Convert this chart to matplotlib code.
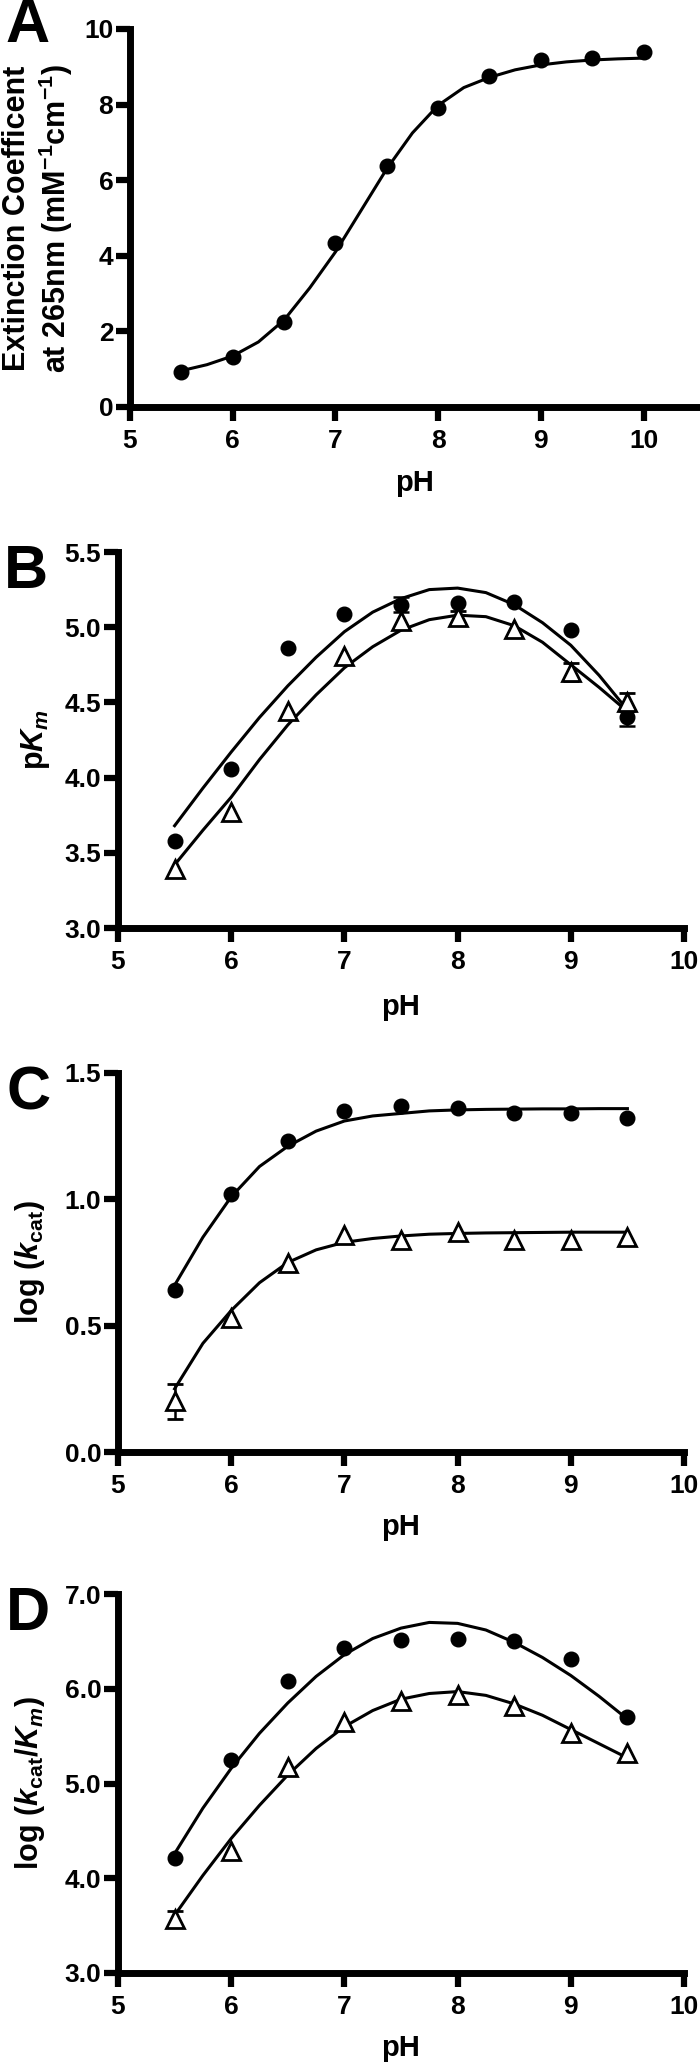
import numpy as np
import matplotlib
matplotlib.use("Agg")
import matplotlib.pyplot as plt

plt.rcParams['font.family'] = 'Liberation Sans'
plt.rcParams['font.weight'] = 'bold'
plt.rcParams['mathtext.fontset'] = 'custom'
plt.rcParams['mathtext.rm'] = 'Liberation Sans:bold'
plt.rcParams['mathtext.it'] = 'Liberation Sans:italic:bold'
plt.rcParams['mathtext.bf'] = 'Liberation Sans:bold'

# panel A data
ph_a = [5.5, 6.0, 6.5, 7.0, 7.5, 8.0, 8.5, 9.0, 9.5, 10.0]
ext_a = [0.93, 1.32, 2.25, 4.33, 6.38, 7.92, 8.76, 9.18, 9.22, 9.38]
fit_ph_a = [5.5, 5.75, 6.0, 6.25, 6.5, 6.75, 7.0, 7.25, 7.5, 7.75, 8.0,
            8.25, 8.5, 8.75, 9.0, 9.25, 9.5, 9.75, 10.0]
fit_a = [0.96, 1.12, 1.35, 1.72, 2.3, 3.15, 4.1, 5.2, 6.3, 7.25, 7.98,
         8.45, 8.72, 8.92, 9.05, 9.13, 9.18, 9.21, 9.23]

# panels B-D share the pH values
ph = [5.5, 6.0, 6.5, 7.0, 7.5, 8.0, 8.5, 9.0, 9.5]
fit_ph = [5.5, 5.75, 6.0, 6.25, 6.5, 6.75, 7.0, 7.25, 7.5, 7.75, 8.0,
          8.25, 8.5, 8.75, 9.0, 9.25, 9.5]

pkm_circ = [3.58, 4.06, 4.86, 5.09, 5.15, 5.16, 5.17, 4.98, 4.40]
pkm_circ_err = [np.nan, np.nan, np.nan, np.nan, 0.05, np.nan, np.nan, np.nan, 0.06]
pkm_tri = [3.39, 3.77, 4.44, 4.81, 5.04, 5.07, 4.99, 4.70, 4.50]
pkm_tri_err = [np.nan, np.nan, np.nan, np.nan, np.nan, 0.04, np.nan, 0.06, 0.06]
fit_pkm_circ = [3.68, 3.93, 4.17, 4.40, 4.61, 4.80, 4.97, 5.10, 5.19, 5.25, 5.26,
                5.23, 5.15, 5.03, 4.88, 4.68, 4.45]
fit_pkm_tri = [3.42, 3.65, 3.87, 4.12, 4.35, 4.55, 4.73, 4.87, 4.98, 5.05, 5.08,
               5.07, 5.01, 4.90, 4.75, 4.60, 4.44]

kcat_circ = [0.64, 1.02, 1.23, 1.35, 1.37, 1.36, 1.34, 1.34, 1.32]
kcat_circ_err = [np.nan] * 9
kcat_tri = [0.20, 0.53, 0.75, 0.86, 0.84, 0.87, 0.84, 0.84, 0.85]
kcat_tri_err = [0.07, np.nan, np.nan, np.nan, np.nan, np.nan, np.nan, np.nan, np.nan]
fit_kcat_circ = [0.66, 0.85, 1.01, 1.13, 1.21, 1.27, 1.31, 1.33, 1.34, 1.35, 1.354,
                 1.356, 1.357, 1.358, 1.358, 1.359, 1.359]
fit_kcat_tri = [0.25, 0.43, 0.56, 0.67, 0.75, 0.80, 0.83, 0.845, 0.855, 0.862, 0.865,
                0.867, 0.868, 0.869, 0.87, 0.87, 0.87]

eff_circ = [4.21, 5.25, 6.08, 6.43, 6.51, 6.52, 6.50, 6.31, 5.70]
eff_circ_err = [np.nan] * 9
eff_tri = [3.57, 4.29, 5.17, 5.65, 5.87, 5.93, 5.82, 5.53, 5.32]
eff_tri_err = [0.08, np.nan, np.nan, np.nan, np.nan, np.nan, np.nan, np.nan, np.nan]
fit_eff_circ = [4.26, 4.74, 5.16, 5.53, 5.85, 6.13, 6.36, 6.53, 6.64, 6.70, 6.69,
                6.62, 6.49, 6.33, 6.14, 5.92, 5.68]
fit_eff_tri = [3.61, 4.03, 4.42, 4.77, 5.09, 5.37, 5.60, 5.77, 5.89, 5.95, 5.97,
               5.93, 5.84, 5.72, 5.57, 5.42, 5.27]

W, H = 700, 2065
fig = plt.figure(figsize=(7, 20.65), dpi=100)


def make_axes(left, right, top, bottom):
    return fig.add_axes([left / W, 1 - bottom / H, (right - left) / W, (bottom - top) / H])


def style(ax, xlim, ylim, yticks, ylabels, ylabel, ylab_x, xlab_y):
    ax.set_xlim(*xlim)
    ax.set_ylim(*ylim)
    ax.set_xticks([5, 6, 7, 8, 9, 10])
    ax.set_xticklabels(['5', '6', '7', '8', '9', '10'], fontweight='bold')
    ax.set_yticks(yticks)
    ax.set_yticklabels(ylabels, fontweight='bold')
    for s in ['top', 'right']:
        ax.spines[s].set_visible(False)
    for s in ['left', 'bottom']:
        ax.spines[s].set_linewidth(5)
    ax.tick_params(axis='both', width=4.5, length=10, labelsize=19)
    ax.tick_params(axis='x', pad=6)
    ax.tick_params(axis='y', pad=2)
    ax.set_xlabel('pH', fontsize=21, fontweight='bold', va='center')
    ax.xaxis.set_label_coords(0.5, xlab_y)
    ax.set_ylabel(ylabel, fontsize=22, fontweight='bold', va='center', linespacing=1.15)
    ax.yaxis.set_label_coords(ylab_x, 0.5)
    ax.patch.set_alpha(0)


def points(ax, y, err, marker):
    if marker == 'o':
        ax.errorbar(ph, y, yerr=err, fmt='o', ms=10.5, color='black',
                    ecolor='black', elinewidth=1.8, capsize=6, capthick=1.8,
                    zorder=3, clip_on=False)
    else:
        ax.errorbar(ph, y, yerr=err, fmt='^', ms=13, mfc='white', mec='black',
                    mew=2, color='black', ecolor='black', elinewidth=1.8,
                    capsize=6, capthick=1.8, zorder=4, clip_on=False)


# A
ax = make_axes(130, 700, 29, 407)
ax.plot(fit_ph_a, fit_a, color='black', lw=2.2, zorder=2)
ax.plot(ph_a, ext_a, 'o', ms=10.5, color='black', zorder=3, clip_on=False)
style(ax, (5, 10.55), (0, 10), [0, 2, 4, 6, 8, 10], ['0', '2', '4', '6', '8', '10'],
      'Extinction Coefficent\nat 265nm (mM$^{-1}$cm$^{-1}$)', -0.160, -0.201)

# B
ax = make_axes(118, 684, 552, 928)
ax.plot(fit_ph, fit_pkm_circ, color='black', lw=2.2, zorder=2)
ax.plot(fit_ph, fit_pkm_tri, color='black', lw=2.2, zorder=2)
points(ax, pkm_circ, pkm_circ_err, 'o')
points(ax, pkm_tri, pkm_tri_err, '^')
style(ax, (5, 10), (3.0, 5.5), [3.0, 3.5, 4.0, 4.5, 5.0, 5.5],
      ['3.0', '3.5', '4.0', '4.5', '5.0', '5.5'], 'p$K_m$', -0.145, -0.210)

# C
ax = make_axes(118, 684, 1073, 1452)
ax.plot(fit_ph, fit_kcat_circ, color='black', lw=2.2, zorder=2)
ax.plot(fit_ph, fit_kcat_tri, color='black', lw=2.2, zorder=2)
points(ax, kcat_circ, kcat_circ_err, 'o')
points(ax, kcat_tri, kcat_tri_err, '^')
style(ax, (5, 10), (0.0, 1.5), [0.0, 0.5, 1.0, 1.5], ['0.0', '0.5', '1.0', '1.5'],
      r'log ($k_{\mathrm{cat}}$)', -0.155, -0.198)

# D
ax = make_axes(118, 684, 1594, 1973)
ax.plot(fit_ph, fit_eff_circ, color='black', lw=2.2, zorder=2)
ax.plot(fit_ph, fit_eff_tri, color='black', lw=2.2, zorder=2)
points(ax, eff_circ, eff_circ_err, 'o')
points(ax, eff_tri, eff_tri_err, '^')
style(ax, (5, 10), (3.0, 7.0), [3, 4, 5, 6, 7], ['3.0', '4.0', '5.0', '6.0', '7.0'],
      r'log ($k_{\mathrm{cat}}$/$K_m$)', -0.155, -0.198)

# panel letters
for letter, x, y in [('A', 28, 27), ('B', 26, 573), ('C', 29, 1094), ('D', 28, 1615)]:
    fig.text(x / W, 1 - y / H, letter, fontsize=44, fontweight='bold',
             ha='center', va='center')

fig.savefig('out.png', dpi=100)
